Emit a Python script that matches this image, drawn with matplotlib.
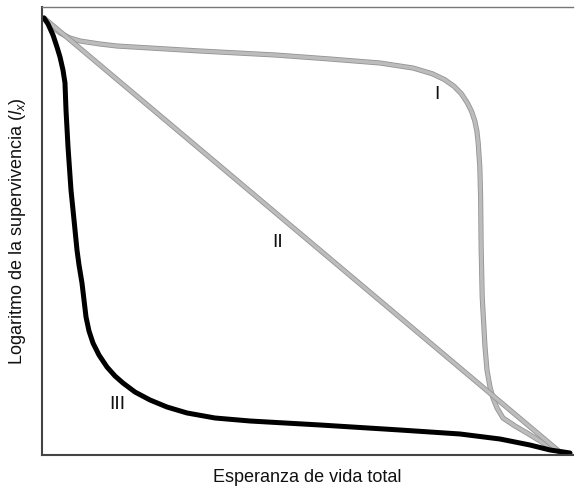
import matplotlib
matplotlib.use('Agg')
import matplotlib.pyplot as plt
import matplotlib.patheffects as pe

plt.rcParams['font.family'] = ['Liberation Sans', 'DejaVu Sans']
plt.rcParams['mathtext.fontset'] = 'custom'
plt.rcParams['mathtext.it'] = 'Liberation Sans:italic'
plt.rcParams['mathtext.rm'] = 'Liberation Sans'

# Curve I (convex): percent of total lifespan vs log survivorship (relative)
x_i = [0.38, 1.51, 3.39, 5.27, 7.16, 10.92, 14.12, 20.34, 29.76, 43.88, 54.24,
       63.65, 69.87, 73.5, 75.8, 77.6, 79.0, 80.1, 80.9, 81.5, 81.9,
       82.15, 82.45, 82.6, 82.7, 82.9, 83.43, 83.80, 84.37, 84.93, 85.69,
       86.82, 89.08, 91.34, 93.79, 95.67, 97.55]
y_i = [97.54, 95.98, 94.20, 93.08, 92.41, 91.74, 91.29, 90.85, 90.18, 89.29,
       88.39, 87.50, 86.38, 85.1, 83.8, 82.3, 80.6, 78.6, 76.7, 74.6,
       72.3, 69.6, 64.3, 57.6, 46.43, 35.27, 24.11, 18.97, 15.18, 12.72,
       10.49, 8.26, 6.47, 4.91, 3.13, 1.79, 0.67]

# Curve II (straight line)
x_ii = [0.38, 97.5]
y_ii = [97.54, 0.7]

# Curve III (concave)
x_iii = [0.38, 1.13, 2.07, 2.82, 3.39, 3.95, 4.33, 4.52, 4.90, 5.46, 6.03, 6.59,
         6.97, 7.53, 7.91, 8.29, 8.85, 9.60, 10.73, 12.24, 13.75, 15.25,
         17.51, 20.34, 23.54, 27.31, 32.58, 39.17, 52.35, 67.42, 78.72, 86.25,
         91.90, 95.67, 99.44]
y_iii = [97.54, 96.21, 93.75, 91.07, 88.84, 85.94, 83.04, 77.01, 68.75, 59.15,
         52.46, 45.76, 42.41, 38.39, 34.60, 30.80, 27.68, 25.00, 22.32,
         19.64, 17.63, 16.07, 14.06, 12.28, 10.71, 9.38, 8.26, 7.59, 6.70, 5.58,
         4.69, 3.57, 2.23, 1.12, 0.45]

labels = ['I', 'II', 'III']
label_x = [74.4, 44.4, 14.1]
label_y = [80.4, 47.5, 11.2]

fig = plt.figure(figsize=(5.75, 4.86), dpi=100)
ax = fig.add_axes([42 / 575, 31 / 486, 531 / 575, 448 / 486])

gray_fx = [pe.Stroke(linewidth=3.7, foreground='#949494'), pe.Normal()]
ax.plot(x_i, y_i, color='#bcbcbc', lw=2.5, solid_joinstyle='round',
        solid_capstyle='round', path_effects=gray_fx)
ax.plot(x_ii, y_ii, color='#bcbcbc', lw=2.5, solid_capstyle='round',
        path_effects=gray_fx)
ax.plot(x_iii, y_iii, color='black', lw=3.6, solid_joinstyle='round',
        solid_capstyle='round')

for lab, lx, ly in zip(labels, label_x, label_y):
    ax.text(lx, ly, lab, fontsize=14, color='#111111', ha='center', va='center')

ax.set_xlim(0, 100)
ax.set_ylim(0, 100)
ax.set_xticks([])
ax.set_yticks([])
for s in ['left', 'bottom']:
    ax.spines[s].set_color('#444444')
    ax.spines[s].set_linewidth(1.5)
ax.spines['top'].set_color('#777777')
ax.spines['top'].set_linewidth(1.0)
ax.spines['right'].set_visible(False)

ax.set_xlabel('Esperanza de vida total', fontsize=13, color='#111111', labelpad=10)
ax.set_ylabel(r'Logaritmo de la supervivencia ($\mathit{l}_\mathit{x}$)', fontsize=13,
              color='#111111', labelpad=10)

fig.savefig('out.png', dpi=100)
